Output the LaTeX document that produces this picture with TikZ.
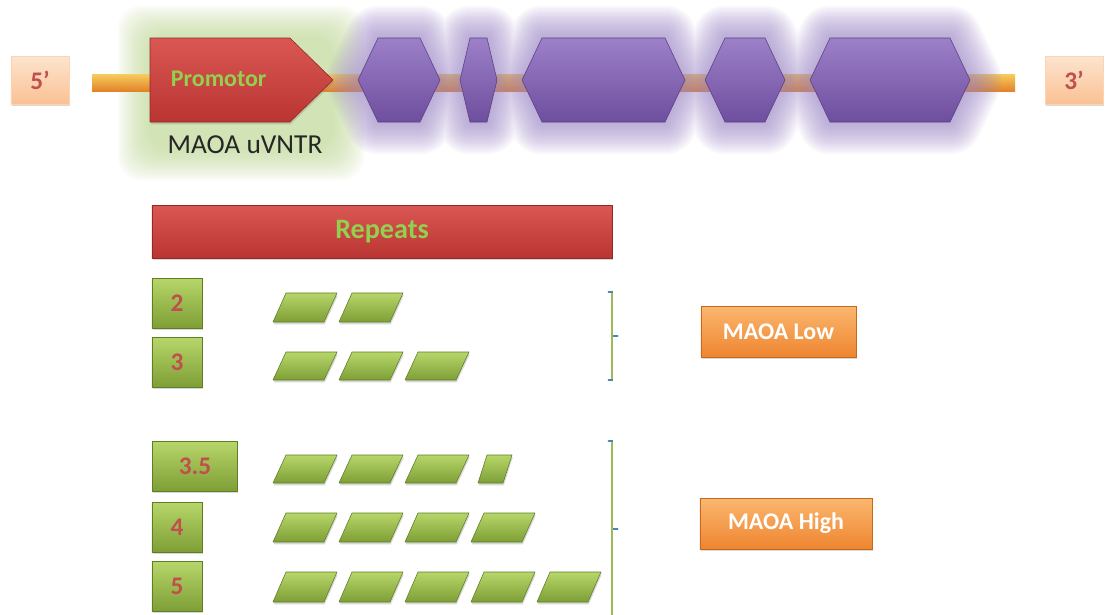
\documentclass[tikz,border=0pt]{standalone}
\usepackage{fontspec}
\setmainfont{Carlito}
\usepackage{tikz}
\usetikzlibrary{shadows, calc}

\definecolor{peachtop}{HTML}{FDE4CF}
\definecolor{peachbot}{HTML}{FAC193}
\definecolor{maoared}{HTML}{C0504D}
\definecolor{textgreen}{HTML}{92D050}
\definecolor{redtop}{HTML}{DA5753}
\definecolor{redbot}{HTML}{BA3532}
\definecolor{redline}{HTML}{8E2B29}
\definecolor{exontop}{HTML}{9C80C8}
\definecolor{exonbot}{HTML}{6E4E9E}
\definecolor{exonline}{HTML}{5A3F86}
\definecolor{greentop}{HTML}{B7D66A}
\definecolor{greenbot}{HTML}{7E9F36}
\definecolor{greenline}{HTML}{5F7D24}
\definecolor{orangetop}{HTML}{FBB76F}
\definecolor{orangebot}{HTML}{EE8530}
\definecolor{orangeline}{HTML}{C4691E}
\definecolor{strandtop}{HTML}{F6C95A}
\definecolor{strandbot}{HTML}{E2822A}
\definecolor{purpleglow}{HTML}{9D85C8}
\definecolor{greenglow}{HTML}{C3DC99}
\definecolor{brackblue}{HTML}{4F81BD}
\definecolor{brackgreen}{HTML}{9BBB59}

\tikzset{
  softshadow/.style={drop shadow={opacity=0.3, shadow xshift=0.6pt, shadow yshift=-1.6pt}},
  endbox/.style={
    rectangle, minimum width=1.45cm, minimum height=1.2cm,
    top color=peachtop, bottom color=peachbot, draw=peachbot!70,
    text=maoared, font=\bfseries\fontsize{18}{21}\selectfont, softshadow
  },
  redbox/.style={
    top color=redtop, bottom color=redbot, draw=redline, softshadow
  },
  repeatbar/.style={
    redbox, rectangle, minimum width=11.5cm, minimum height=1.325cm,
    text=textgreen, font=\bfseries\fontsize{20}{24}\selectfont
  },
  exon/.style={
    top color=exontop, bottom color=exonbot, draw=exonline, line join=round
  },
  greenbox/.style={
    top color=greentop, bottom color=greenbot, draw=greenline, softshadow
  },
  numbox/.style={
    greenbox, rectangle, minimum width=1.25cm, minimum height=1.25cm,
    text=maoared, font=\bfseries\fontsize{18}{21}\selectfont
  },
  unit/.style={greenbox, line join=round},
  levelbox/.style={
    rectangle, minimum height=1.275cm, top color=orangetop,
    bottom color=orangebot, draw=orangeline, softshadow,
    text=white, font=\bfseries\fontsize{17}{20}\selectfont
  },
  strand/.style={top color=strandtop, bottom color=strandbot},
  bracketline/.style={brackgreen, line width=2pt},
  brackethook/.style={brackblue, line width=1.2pt, line cap=round}
}

\begin{document}
\begin{tikzpicture}[x=0.025cm, y=-0.025cm]
  \useasboundingbox[fill=white] (0,0) rectangle (1108,614);

  % glow behind promotor
  \foreach \e in {30,28,...,0}
    \fill[greenglow, opacity=0.065, rounded corners=16pt]
      (148-\e,36-\e) rectangle (334+\e,150+\e);

  % DNA strand
  \coordinate (strandL) at (92,83);
  \coordinate (strandR) at (1015,83);
  \path[strand] ([yshift=5.8pt]strandL) rectangle ([yshift=-5.8pt]strandR);

  % glow behind exons
  \foreach \w in {4,8,...,64}
    \draw[purpleglow, line width=\w*0.025cm, opacity=0.06, line join=round]
      \foreach \a/\b/\c in {358/440/20, 460/497/10, 522/685/20, 705/785/20, 810/970/20}
      { (\a,80) -- (\a+\c,38) -- (\b-\c,38) -- (\b,80) -- (\b-\c,122) -- (\a+\c,122) -- cycle };

  % exons
  \foreach \a/\b/\c in {358/440/20, 460/497/10, 522/685/20, 705/785/20, 810/970/20}
    \path[exon] (\a,80) -- (\a+\c,38) -- (\b-\c,38) -- (\b,80) -- (\b-\c,122) -- (\a+\c,122) -- cycle;

  % promotor
  \path[redbox, line join=round] (150,38) -- (290,38) -- (333,80) -- (290,122) -- (150,122) -- cycle;
  \node[anchor=west, text=textgreen, font=\bfseries\fontsize{17}{20}\selectfont]
    (promlabel) at (166,79) {Promotor};
  \node[text=black!85, font=\fontsize{19.5}{23}\selectfont] (uvntr) at (245,145) {MAOA uVNTR};

  % ends
  \node[endbox] (five) at (40,80) {5'};
  \node[endbox] (three) at (1074,80) {3'};

  % repeats
  \node[repeatbar] (repeats) at (382,231.5) {Repeats};

  \node[numbox] (n2) at (177,303) {2};
  \node[numbox] (n3) at (177,362) {3};
  \node[numbox, minimum width=2.125cm] (n35) at (195,466) {3.5};
  \node[numbox] (n4) at (177,527) {4};
  \node[numbox] (n5) at (177,586) {5};

  \foreach \t/\b/\n in {293/322/2, 352/380/3, 455/483/3, 513/542/4, 572/602/5}
    \foreach \i in {1,...,\n}
      \path[unit] ({273+66*(\i-1)},\b) -- ++(51,0) -- ({273+66*(\i-1)+64},\t) -- ++(-51,0) -- cycle;
  \path[unit] (478,483) -- (503,483) -- (512,455) -- (487,455) -- cycle;

  % brackets
  \coordinate (lowtop) at (612,292);
  \coordinate (lowbot) at (612,380);
  \coordinate (lowmid) at (612,336);
  \coordinate (hightop) at (612,441);
  \coordinate (highbot) at (612,620);
  \coordinate (highmid) at (612,529);
  \draw[brackethook] ([xshift=-2.5pt]lowtop) -- (lowtop) -- (lowbot) -- ([xshift=-2.5pt]lowbot);
  \draw[brackethook] (lowmid) -- ([xshift=4pt]lowmid);
  \draw[bracketline] ([yshift=-1pt]lowtop) -- ([yshift=1pt]lowbot);
  \draw[brackethook] ([xshift=-2.5pt]hightop) -- (hightop) -- (highbot);
  \draw[brackethook] (highmid) -- ([xshift=4pt]highmid);
  \draw[bracketline] ([yshift=-1pt]hightop) -- (highbot);

  % expression levels
  \node[levelbox, minimum width=3.875cm] (low) at (778.5,331.5) {MAOA Low};
  \node[levelbox, minimum width=4.3cm] (high) at (786,523.5) {MAOA High};
\end{tikzpicture}
\end{document}
